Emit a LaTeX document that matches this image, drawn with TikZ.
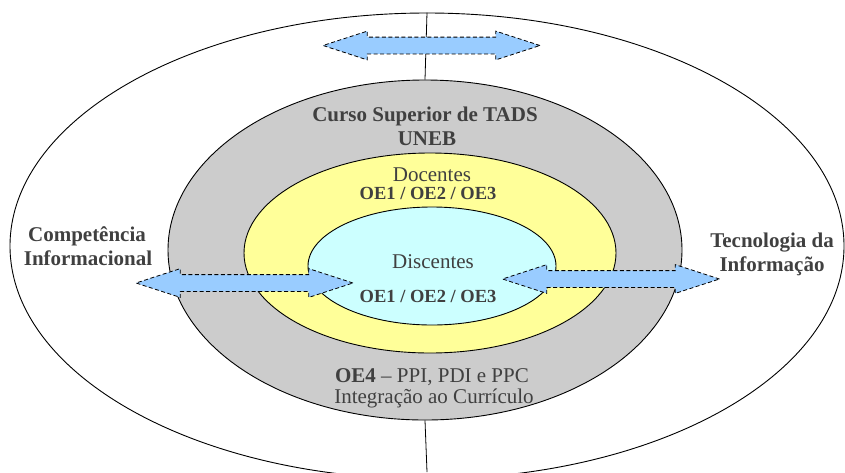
\documentclass[tikz,border=0pt]{standalone}
\usepackage{fontspec}
\setmainfont{Liberation Serif}
\usetikzlibrary{shapes.geometric, shapes.arrows}
\definecolor{ringgray}{HTML}{CCCCCC}
\definecolor{ringyellow}{HTML}{FFFF99}
\definecolor{ringcyan}{HTML}{CCFFFF}
\definecolor{arrowfill}{HTML}{99CCFF}
\definecolor{txtgray}{HTML}{404040}
\tikzset{
  ring/.style     = {ellipse, draw=black, line width=0.9pt, inner sep=0pt},
  lbl/.style      = {text=txtgray, font=\fontsize{21}{24}\selectfont, anchor=base, inner sep=0pt},
  lblb/.style     = {lbl, font=\fontsize{21}{24}\selectfont\bfseries},
  oelbl/.style    = {lbl, font=\fontsize{18.5}{22}\selectfont\bfseries},
  dblarrow/.style = {double arrow, draw=black, fill=arrowfill, line width=0.8pt,
                     dash pattern=on 4pt off 2.5pt, minimum height=217,
                     inner xsep=0pt, inner ysep=8pt,
                     double arrow head extend=6, double arrow tip angle=36},
  axis/.style     = {draw=black, line width=0.8pt},
}
\begin{document}
\begin{tikzpicture}[x=1pt, y=-1pt]
    \useasboundingbox (0,0) rectangle (845,472);
    \clip (0,0) rectangle (845,472);
    % rings
    \node[ring, minimum width=834, minimum height=466] (meio) at (427,246) {};
    \node[ring, fill=ringgray, minimum width=514, minimum height=340] (curso) at (425,250) {};
    \node[ring, fill=ringyellow, minimum width=372, minimum height=200] (docentes) at (430,253) {};
    \node[ring, fill=ringcyan, minimum width=248, minimum height=118] (discentes) at (432,266) {};
    \coordinate (base) at (427,472);
    \draw[axis] (meio.north) -- (curso.north);
    \draw[axis] (curso.south) -- (base);
    % arrows
    \node[dblarrow] (setatopo) at (431.5,45.5) {};
    \node[dblarrow] (setaesq) at (244.5,283) {};
    \node[dblarrow] (setadir) at (611,279) {};
    % labels
    \node[lblb] (tads) at (425,121.5) {Curso Superior de TADS};
    \node[lblb] (uneb) at (427,145) {UNEB};
    \node[lbl] (doc) at (432,181) {Docentes};
    \node[oelbl] (oedoc) at (428,199) {OE1 / OE2 / OE3};
    \node[lbl] (disc) at (433,268) {Discentes};
    \node[oelbl] (oedisc) at (428,302) {OE1 / OE2 / OE3};
    \node[lbl] (oe4) at (432,382) {\textbf{OE4} -- PPI, PDI e PPC};
    \node[lbl] (curr) at (434,403) {Integração ao Currículo};
    \node[lblb] (comp) at (87,241) {Competência};
    \node[lblb] (info) at (88,265) {Informacional};
    \node[lblb] (tec) at (772,247) {Tecnologia da};
    \node[lblb] (infor) at (772,271) {Informação};
\end{tikzpicture}
\end{document}
